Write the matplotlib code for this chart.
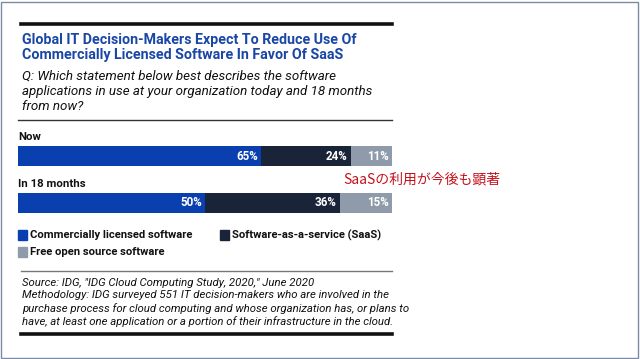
import matplotlib.pyplot as plt
from matplotlib.patches import Rectangle
from matplotlib.lines import Line2D

W, H = 640, 359

rows = ["Now", "In 18 months"]
series = ["Commercially licensed software", "Software-as-a-service (SaaS)", "Free open source software"]
values = [
    [65, 50],
    [24, 36],
    [11, 15],
]
colors = ["#0a3fb0", "#1a2438", "#8f9bab"]

title = "Global IT Decision-Makers Expect To Reduce Use Of\nCommercially Licensed Software In Favor Of SaaS"
question = ("Q: Which statement below best describes the software\n"
            "applications in use at your organization today and 18 months\n"
            "from now?")
source = ('Source: IDG, "IDG Cloud Computing Study, 2020," June 2020\n'
          "Methodology: IDG surveyed 551 IT decision-makers who are involved in the\n"
          "purchase process for cloud computing and whose organization has, or plans to\n"
          "have, at least one application or a portion of their infrastructure in the cloud.")
note = "SaaSの利用が今後も顕著"

FONT = ["Roboto", "DejaVu Sans"]

fig = plt.figure(figsize=(W / 100, H / 100), dpi=100)


def fx(px):
    return px / W


def fy(py):
    return 1 - py / H


def hline(y, x0, x1, lw, color):
    fig.add_artist(Line2D([fx(x0), fx(x1)], [fy(y), fy(y)], lw=lw, color=color,
                          transform=fig.transFigure))


# outer frame
fig.add_artist(Rectangle((fx(1), fy(358)), fx(637), 356 / H, fill=False,
                         edgecolor="#7b8aa3", lw=1.0, transform=fig.transFigure))

hline(24, 21, 392, 2.6, "#111111")
fig.text(fx(22), fy(47.5), title, color="#1a47a6", fontsize=10.3, fontweight="bold",
         family=FONT, va="center", linespacing=1.15)
fig.text(fx(22), fy(91), question, color="#111111", fontsize=9.6, style="italic",
         family=FONT, va="center", linespacing=1.22)
hline(120, 18, 392, 1.0, "#333333")

# bars
ax = fig.add_axes([fx(18), fy(213), fx(392) - fx(18), (213 - 146) / H])
ypos = list(range(len(rows)))
left = [0] * len(rows)
for vals, c in zip(values, colors):
    bars = ax.barh(ypos, vals, left=left, height=20 / 47, color=c)
    for b, v in zip(bars, vals):
        ax.text(min(b.get_x() + b.get_width(), 100) - 0.8, b.get_y() + b.get_height() / 2,
                f"{v}%", color="white", fontsize=8.4, fontweight="bold", family=FONT,
                ha="right", va="center")
    left = [l + v for l, v in zip(left, vals)]
ax.set_xlim(0, 100)
ax.set_ylim(1 + 10 / 47, -10 / 47)
ax.axis("off")

for i, r in enumerate(rows):
    ax.text(0, i - 19 / 47, r, fontsize=8.2, fontweight="bold", family=FONT,
            color="#111111", va="center", ha="left")

fig.text(fx(343), fy(179), note, color="#c4121c", fontsize=10,
         family=["Noto Sans CJK JP", "DejaVu Sans"], va="center")

# legend
leg_pos = [(18, 235), (220, 235), (18, 252)]
for (x, y), s, c in zip(leg_pos, series, colors):
    fig.add_artist(Rectangle((fx(x), fy(y + 5)), 9 / W, 10 / H, color=c,
                             transform=fig.transFigure))
    fig.text(fx(x + 12), fy(y), s, fontsize=8.1, fontweight="bold", family=FONT,
             color="#111111", va="center")

hline(271, 21, 392, 1.0, "#777777")
fig.text(fx(22), fy(302.5), source, color="#111111", fontsize=8.2, style="italic",
         family=FONT, va="center", linespacing=1.28)
hline(334, 21, 392, 2.6, "#111111")

fig.savefig("out.png", dpi=100)
